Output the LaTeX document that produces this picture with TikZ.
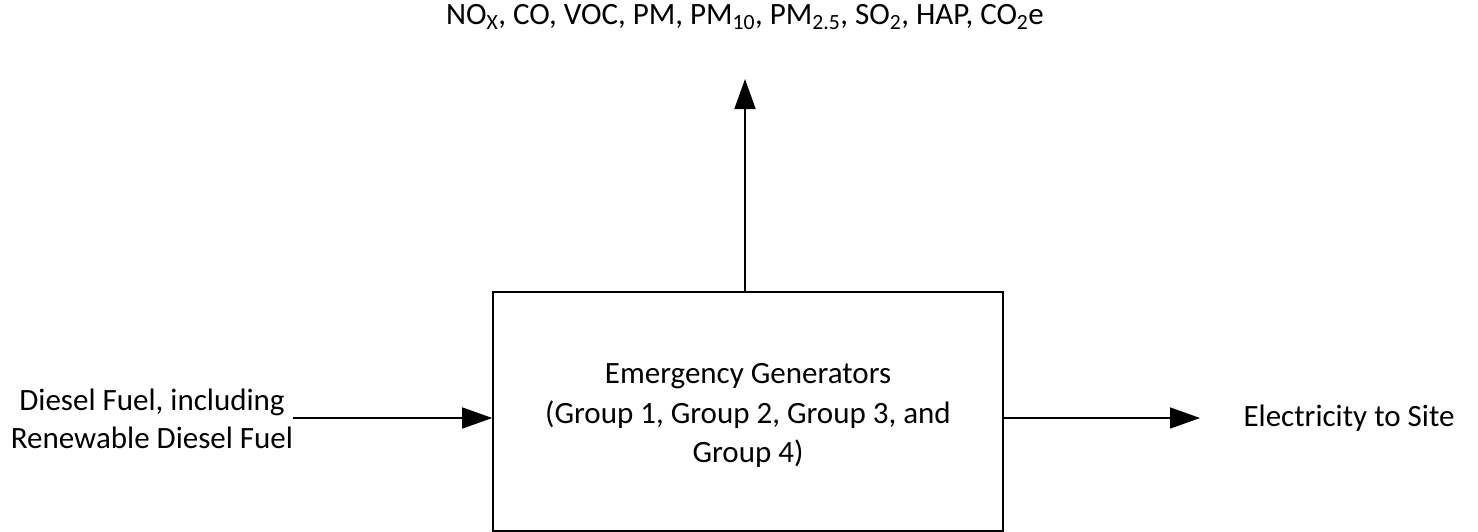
\documentclass[tikz,border=0pt]{standalone}
\usepackage{fontspec}
\setmainfont{Carlito}
\usetikzlibrary{arrows.meta,positioning}
\tikzset{
	genbox/.style={draw, line width=1.6pt, minimum width=510pt, minimum height=239pt, align=center},
	flow/.style={line width=1.6pt, -{Triangle[length=30pt,width=21pt]}},
	txt/.style={align=center, font=\fontsize{31}{38}\selectfont}
}
\begin{document}
\begin{tikzpicture}[x=1pt,y=-1pt]
	\useasboundingbox (0,0) rectangle (1478,531);
	% main block
	\node[genbox, txt, font=\fontsize{31}{39.5}\selectfont] (gen) at (748,411.5) {\rule{0pt}{28pt}Emergency Generators\\(Group 1, Group 2, Group 3, and\\Group 4)};
	% labels round the block
	\node[txt] (emis) at (745,17) {NO\textsubscript{X}, CO, VOC, PM, PM\textsubscript{10}, PM\textsubscript{2.5}, SO\textsubscript{2}, HAP, CO\textsubscript{2}e};
	\node[txt] (fuel) at (152,419) {Diesel Fuel, including\\Renewable Diesel Fuel};
	\node[txt, anchor=west] (elec) at (1240,418) {Electricity to Site};
	\coordinate (fuelend) at (293,418);
	\coordinate (emisend) at (745,79);
	\coordinate (elecend) at (1200,418);
	% flows
	\draw[flow] (fuelend) -- (fuelend -| gen.west);
	\draw[flow] (gen.north -| emisend) -- (emisend);
	\draw[flow] (elecend -| gen.east) -- (elecend);
\end{tikzpicture}
\end{document}
